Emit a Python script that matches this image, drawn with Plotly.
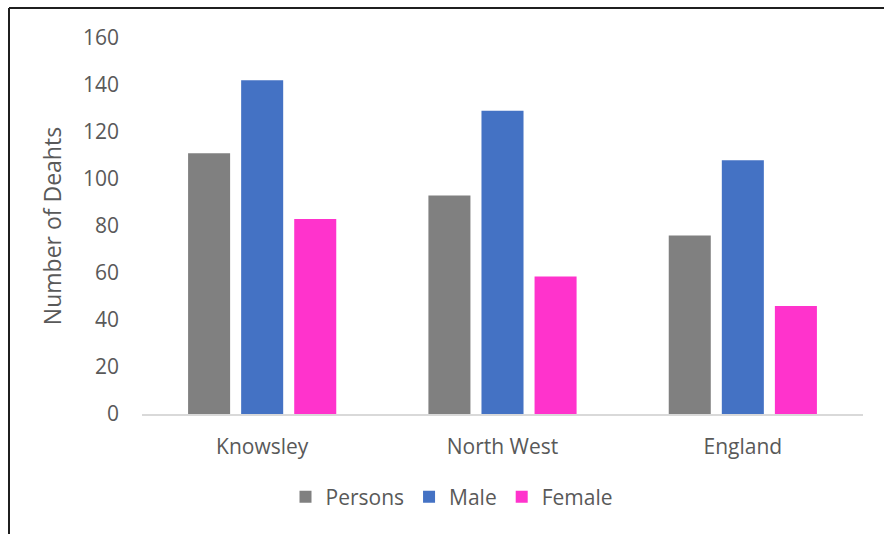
import plotly.graph_objects as go

# Deaths by area and sex
areas = ["Knowsley", "North West", "England"]
persons = [111, 93, 76]
male = [142, 129, 108]
female = [83, 58.5, 46]

y_ticks = [0, 20, 40, 60, 80, 100, 120, 140, 160]

FONT = "Open Sans"
TEXT = "#595959"
SIZE = 21

fig = go.Figure()
for name, vals, color in [
    ("Persons", persons, "#808080"),
    ("Male", male, "#4472C4"),
    ("Female", female, "#FF33CC"),
]:
    fig.add_trace(go.Bar(
        x=areas, y=vals, name=name,
        marker=dict(color=color, line=dict(width=0)),
    ))

W, H = 884, 534
ml, mr, mt, mb = 142, 21, 38, 120
pw, ph = W - ml - mr, H - mt - mb


def px_to_paper_x(px):
    return (px - ml) / pw


def px_to_paper_y(py):
    return (H - mb - py) / ph


fig.update_layout(
    width=W, height=H,
    margin=dict(l=ml, r=mr, t=mt, b=mb),
    paper_bgcolor="white", plot_bgcolor="white",
    barmode="group", bargap=0.3375, bargroupgap=0.208,
    font=dict(family=FONT, size=SIZE, color=TEXT),
    showlegend=True,
    legend=dict(
        orientation="h",
        x=px_to_paper_x(452), xanchor="center",
        y=px_to_paper_y(497), yanchor="middle",
        font=dict(family=FONT, size=SIZE, color=TEXT),
        itemwidth=30,
    ),
    xaxis=dict(
        showline=True, linecolor="#D9D9D9", linewidth=1.5,
        showgrid=False, ticks="", ticklabelstandoff=13,
        tickfont=dict(family=FONT, size=SIZE, color=TEXT),
    ),
    yaxis=dict(
        range=[0, 160], tickvals=y_ticks,
        showline=False, showgrid=False, zeroline=False, ticks="",
        ticklabelstandoff=22,
        tickfont=dict(family=FONT, size=SIZE, color=TEXT),
        title=dict(text="Number of Deahts", standoff=14,
                   font=dict(family=FONT, size=23, color=TEXT)),
    ),
    shapes=[
        # chart frame: top and left edges
        dict(type="line", xref="paper", yref="paper",
             x0=px_to_paper_x(9), x1=px_to_paper_x(900),
             y0=px_to_paper_y(8), y1=px_to_paper_y(8),
             line=dict(color="#1F1F1F", width=2)),
        dict(type="line", xref="paper", yref="paper",
             x0=px_to_paper_x(9), x1=px_to_paper_x(9),
             y0=px_to_paper_y(8), y1=px_to_paper_y(560),
             line=dict(color="#1F1F1F", width=2)),
    ],
)

fig.write_html("out.html")
